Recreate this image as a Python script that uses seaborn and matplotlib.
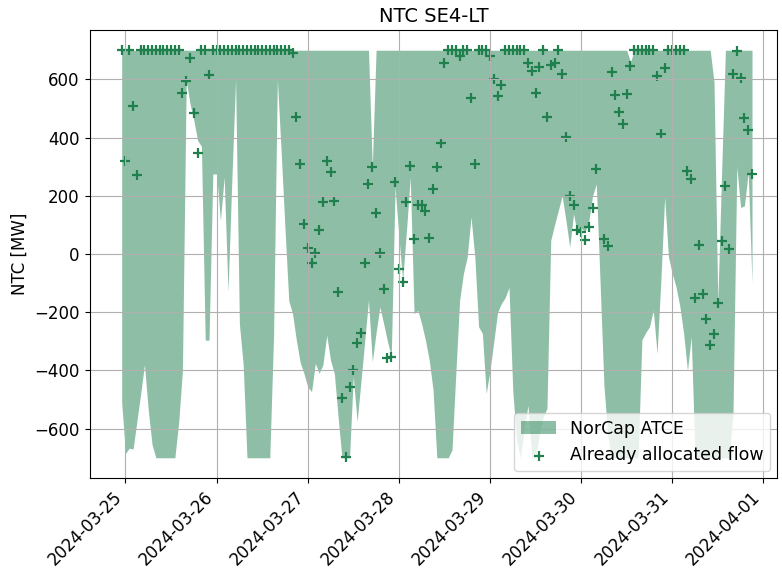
import numpy as np
import pandas as pd
import matplotlib
matplotlib.use("Agg")
import matplotlib.pyplot as plt
import seaborn as sns

# hourly timestamps (UTC), 2024-03-24 23:00 -> 2024-03-31 21:00
times = pd.date_range("2024-03-24 23:00", periods=167, freq="h")

# NorCap ATCE band, lower edge [MW]
atce_min = [
    -510, -685, -667, -670, -575, -480, -380, -536, -655, -700, -700, -700, -700,
    -700, -700, -580, -400, 595, 516, 459, 390, 370, -296, -296, 275,
    275, 115, 264, -130, 250, 600, -240, -380, -700, -700, -700, -700, -700, -700,
    -700, -280, 600, 350, 90, -160, -205, -296, -372, -410,
    -456, -473, -376, -410, -380, -279, -365, -410, -560, -700, -700, -700,
    -420, -576, -440, -300, -159, -370, -270, -182, -240, -300, -353, 230,
    60, -90, 80, 264, -205, -194, -240, -296, -365, -467, -700, -700,
    -700, -700, -673, -410, -159, -67, -10, 127, -10, -250, -273, -479,
    -400, -300, -200, -170, -150, -115, -470, -640, -700, -600, -520, -700,
    -700, -620, -560, -530, 47, 100, 150, 200, 115, 24, 138, 70,
    90, 75, 110, 200, 240, -100, -450, -620, -700, -700, -700, -700,
    -700, -700, -700, -700, -295, -270, -250, -193, -342, -90, 195, -10,
    -67, -113, -180, -273, -400, -285, -700, -700, -700, -700, -700, -700,
    -700, -700, -700, -700, -550, 300, 160, 165, 280, -100,
]

# NorCap ATCE band, upper edge [MW]
atce_max = [
    700, 700, 700, 700, 700, 700, 700, 700, 700, 700, 700, 700, 700,
    700, 700, 700, 700, 700, 700, 700, 700, 700, 700, 700, 700,
    700, 700, 700, 700, 700, 700, 700, 700, 700, 700, 700, 700,
    700, 700, 700, 700, 700, 700, 700, 700, 700, 700, 700, 700,
    700, 700, 700, 700, 700, 700, 700, 700, 700, 700, 700, 700,
    700, 700, 700, 700, 700, 300, 700, 700, 700, 700, 700, 700,
    700, 700, 700, 700, 700, 700, 700, 700, 700, 700, 700, 700,
    700, 700, 700, 700, 700, 700, 700, 700, 700, 700, 700, 700,
    700, 700, 700, 700, 700, 700, 700, 700, 700, 700, 700, 700,
    700, 700, 700, 700, 700, 700, 700, 700, 700, 700, 700, 700,
    700, 700, 700, 700, 700, 700, 700, 700, 700, 700, 700, 700,
    700, 660, 700, 700, 700, 700, 700, 700, 700, 700, 700, 700,
    700, 700, 700, 700, 700, 700, 700, 700, 700, 700, 700, 590,
    -165, 280, 700, 700, 700, 700, 700, 700, 700, 700,
]

# already allocated flow [MW]
flow = [
    700, 321, 700, 510, 272, 700, 700, 700, 700, 700, 700, 700, 700,
    700, 700, 700, 553, 593, 675, 486, 347, 700, 700, 614, 700,
    700, 700, 700, 700, 700, 700, 700, 700, 700, 700, 700, 700,
    700, 700, 700, 700, 700, 700, 700, 700, 689, 472, 308, 104,
    22, -30, 4, 83, 178, 319, 283, 181, -130, -496, -698, -456,
    -398, -307, -270, -30, 241, 300, 140, 4, -119, -359, -353, 246,
    -50, -96, 178, 304, 53, 167, 170, 148, 55, 224, 300, 380,
    656, 700, 700, 700, 681, 700, 700, 536, 310, 700, 700, 700,
    681, 601, 544, 582, 700, 700, 700, 700, 700, 700, 655, 627,
    552, 643, 700, 470, 650, 655, 700, 620, 401, 198, 167, 82,
    75, 47, 93, 158, 293, np.nan, 53, 27, 626, 546, 487, 447,
    550, 647, 700, 700, 700, 700, 700, 700, 613, 413, 639, 700,
    700, 700, 700, 700, 285, 258, -150, 30, -136, -222, -311, -275,
    -170, 43, 235, 18, 620, 698, 603, 467, 426, 275,
]

green = "#1f7f4d"

df = pd.DataFrame({"time": times, "flow": flow})

fig = plt.figure(figsize=(7.82, 5.74), dpi=100)
ax = fig.add_subplot(111)
fig.subplots_adjust(left=0.1145, right=0.994, bottom=0.167, top=0.948)

ax.fill_between(times, atce_min, atce_max, color=green, alpha=0.5,
                linewidth=0, label="NorCap ATCE")
sns.scatterplot(data=df, x="time", y="flow", marker="+", color=green,
                s=50, linewidth=1.6, ax=ax, label="Already allocated flow")

ax.set_xlim(pd.Timestamp("2024-03-24 14:32"), pd.Timestamp("2024-04-01 03:40"))
ax.grid(True)
ax.set_title("NTC SE4-LT", fontsize=14)
ax.set_xlabel("")
ax.set_ylabel("NTC [MW]", fontsize=12)
ax.tick_params(labelsize=12)
plt.setp(ax.get_xticklabels(), rotation=45, ha="right")
ax.legend(loc="lower right", fontsize=12.5, borderaxespad=0.4)

fig.savefig("out.png", dpi=100)
